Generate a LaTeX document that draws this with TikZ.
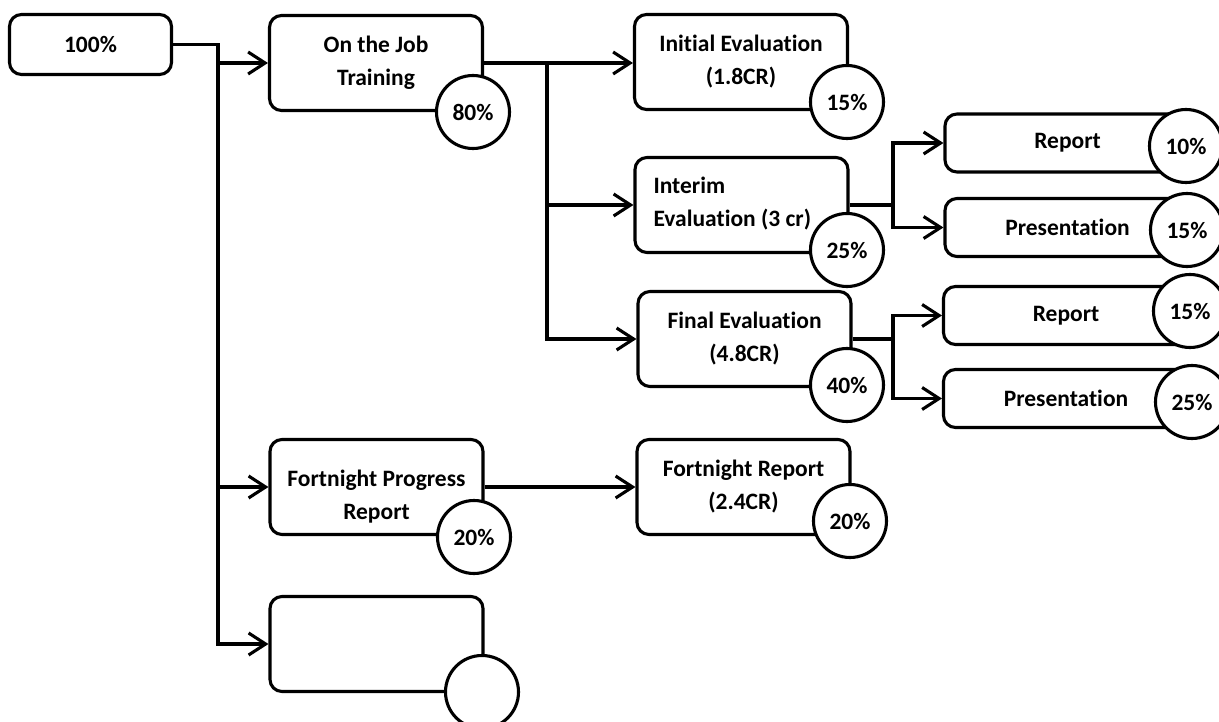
\documentclass[tikz,border=0pt]{standalone}
\usepackage{fontspec}
\setmainfont{Carlito}[Ligatures=NoCommon]
\usepackage{tikz}
\usetikzlibrary{arrows.meta, positioning}

\begin{document}
\begin{tikzpicture}[x=1pt,y=-1pt,line width=3.1pt,
    >={Straight Barb[length=17pt,width=22pt]},
    font=\bfseries\fontsize{23.5}{33}\selectfont]
  \tikzstyle{box}=[draw,rectangle,rounded corners=12pt,minimum width=213pt,minimum height=95pt,inner sep=0pt,align=center]
  \tikzstyle{small box}=[box,minimum width=245pt,minimum height=58pt]
  \tikzstyle{pct}=[draw,circle,fill=white,minimum size=73pt,inner sep=0pt]

  \useasboundingbox (0,0) rectangle (1219,722);

  \node[box,minimum width=162pt,minimum height=60pt] (total) at (90.5,44.5) {100\%};
  \node[box] (ojt) at (376,63) {On the Job\\Training};
  \node[box] (fpr) at (376.5,487) {};
  \node[align=center] (fprtext) at ([yshift=-10pt]fpr.center) {Fortnight Progress\\Report};
  \node[box] (emp) at (376.5,644) {};

  \node[box] (ini) at (741,62) {Initial Evaluation\\(1.8CR)};
  \node[box] (itm) at (741.5,205) {};
  \node[align=flush left,anchor=west,inner sep=0pt] (itmtext) at (652,204) {Interim\\Evaluation (3 cr)};
  \node[box] (fin) at (744.5,339) {Final Evaluation\\(4.8CR)};
  \node[box] (fre) at (743.5,487) {Fortnight Report\\(2.4CR)};

  \node[small box] (rep1) at (1067.5,143) {Report};
  \node[small box] (pres1) at (1067.5,227.5) {Presentation};
  \node[small box] (rep2) at (1066,315.5) {Report};
  \node[small box] (pres2) at (1066,398.5) {Presentation};

  \coordinate (trunk) at (218,0);
  \coordinate (ojtsplit) at (547,63);
  \coordinate (itmsplit) at (893,205);
  \coordinate (finsplit) at (893,339);

  % left trunk
  \draw[->] (total.east) -| (emp.west -| trunk) -- (emp.west);
  \draw[->] (ojt.west -| trunk) -- (ojt.west);
  \draw[->] (fpr.west -| trunk) -- (fpr.west);

  % on the job training
  \draw[->] (ojt.east) -- (ojt.east -| ini.west);
  \draw[->] (ojtsplit) |- (itm.west);
  \draw[->] (ojtsplit) |- (fin.west);

  \draw (itm.east) -- (itmsplit);
  \draw[->] (itmsplit) |- (rep1.west);
  \draw[->] (itmsplit) |- (pres1.west);

  \draw (fin.east) -- (finsplit);
  \draw[->] (finsplit) |- (rep2.west);
  \draw[->] (finsplit) |- (pres2.west);

  \draw[->] (fpr.east) -- (fre.west);

  % weights
  \node[pct] (ojtw) at (473,112) {80\%};
  \node[pct] (fprw) at (474,537) {20\%};
  \node[pct] (empw) at (482,692) {};
  \node[pct] (iniw) at (847,102) {15\%};
  \node[pct] (itmw) at (847,250) {25\%};
  \node[pct] (finw) at (847,385) {40\%};
  \node[pct] (frew) at (850,521) {20\%};
  \node[pct] (rep1w) at (1186,146) {10\%};
  \node[pct] (pres1w) at (1187,230) {15\%};
  \node[pct] (rep2w) at (1190,311) {15\%};
  \node[pct] (pres2w) at (1192,402) {25\%};
\end{tikzpicture}
\end{document}
